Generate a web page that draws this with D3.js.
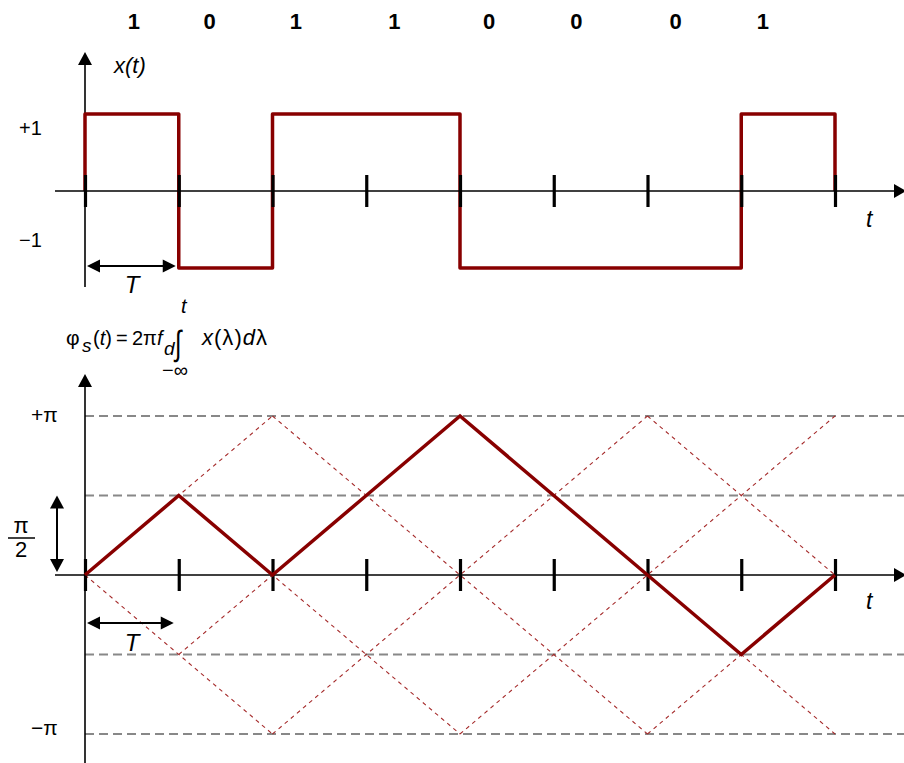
<!DOCTYPE html>
<html><head><meta charset="utf-8">
<script src="https://cdn.jsdelivr.net/npm/d3@7"></script>
<style>
body{margin:0;background:#fff}
svg{display:block}
text{font-family:"Liberation Sans",Arial,sans-serif;fill:#000}
</style>
</head><body>
<svg id="c" width="904" height="763"></svg>
<script>
// ---------------- data ----------------
const bits = ["1","0","1","1","0","0","0","1"];
const levels = [1,-1,1,1,-1,-1,-1,1];            // x(t) in each bit interval
const phase = [0,1,0,1,2,1,0,-1,0];              // φs at t = nT, units of π/2
const tickTimes = [0,1,2,3,4,5,6,7,8];
const gridPhases = [2,1,-1,-2];                  // dashed reference levels (π/2 units)
const trellisLines = [                            // [t0, φ0, t1, φ1] in (T, π/2) units
  [0,0,2,-2],[2,2,6,-2],[1,1,4,-2],[4,2,8,-2],[6,2,8,0],
  [0,0,2,2],[1,-1,4,2],[2,-2,6,2],[4,-2,8,2],[6,-2,8,0]
];
const topLevelLabels = ["+1","\u22121"];
const phaseLabels = ["+\u03c0","\u2212\u03c0"];

// ---------------- layout ----------------
const svg = d3.select("#c");
const x = d3.scaleLinear().domain([0,8]).range([85,835]);
const yTop = d3.scaleLinear().domain([-1,1]).range([268,114]);
const yBot = d3.scaleLinear().domain([-2,2]).range([734,416]);
const RED = "#880000";
const bitNudge = [0.02,-0.17,-0.25,-0.2,-0.19,-0.26,-0.2,-0.27];

function arrowHead(g, tx, ty, dir, w, h){
  let p;
  if(dir==="up") p=[[tx,ty],[tx-w/2,ty+h],[tx+w/2,ty+h]];
  if(dir==="down") p=[[tx,ty],[tx-w/2,ty-h],[tx+w/2,ty-h]];
  if(dir==="left") p=[[tx,ty],[tx+h,ty-w/2],[tx+h,ty+w/2]];
  if(dir==="right") p=[[tx,ty],[tx-h,ty-w/2],[tx-h,ty+w/2]];
  g.append("path").attr("d","M"+p.map(d=>d.join(",")).join("L")+"Z").attr("fill","#000");
}
function hArrow(g, x0, x1, y){
  g.append("line").attr("x1",x0+10).attr("x2",x1-10).attr("y1",y).attr("y2",y).attr("stroke","#000").attr("stroke-width",2);
  arrowHead(g,x0,y,"left",13,13);
  arrowHead(g,x1,y,"right",13,13);
}
function timeAxis(g, y0){
  g.append("line").attr("x1",55).attr("x2",895).attr("y1",y0).attr("y2",y0).attr("stroke","#000").attr("stroke-width",1.6);
  arrowHead(g,906,y0,"right",14,12);
  const ax = d3.axisBottom(x).tickValues(tickTimes).tickFormat("").tickSize(16);
  const a = g.append("g").attr("transform",`translate(0,${y0})`).call(ax);
  a.select(".domain").remove();
  a.selectAll(".tick line").attr("y1",-16).attr("y2",16).attr("stroke","#000").attr("stroke-width",3.2);
  return a;
}

// ---------------- top chart ----------------
const gTop = svg.append("g");
gTop.append("line").attr("x1",x(0)).attr("x2",x(0)).attr("y1",62).attr("y2",287).attr("stroke","#000").attr("stroke-width",1.6);
arrowHead(gTop,x(0),52,"up",14,13);

const pts = [[0,0]];
levels.forEach((l,i)=>{pts.push([i,l]);pts.push([i+1,l]);});
pts.push([8,0]);
gTop.append("path")
  .attr("d",d3.line().x(d=>x(d[0])).y(d=>yTop(d[1]))(pts))
  .attr("fill","none").attr("stroke",RED).attr("stroke-width",3.5).attr("stroke-linejoin","round");

timeAxis(gTop, yTop(0));

gTop.selectAll("text.bit").data(bits).join("text").attr("class","bit")
  .attr("x",(d,i)=>x(i+0.5+bitNudge[i])).attr("y",29)
  .attr("text-anchor","middle").attr("font-size",22).attr("font-weight","bold").text(d=>d);

gTop.append("text").attr("x",114).attr("y",73).attr("font-size",22).attr("font-style","italic").text("x(t)");
gTop.append("text").attr("x",19).attr("y",135).attr("font-size",20).text(topLevelLabels[0]);
gTop.append("text").attr("x",19).attr("y",247).attr("font-size",20).text(topLevelLabels[1]);
gTop.append("text").attr("x",866).attr("y",227).attr("font-size",23).attr("font-style","italic").text("t");

hArrow(gTop, x(0)+2, x(1)-3, 266);
gTop.append("text").attr("x",132).attr("y",293).attr("text-anchor","middle").attr("font-size",24).attr("font-style","italic").text("T");

// ---------------- formula ----------------
const f = svg.append("g").attr("font-size",20);
f.append("text").attr("x",66).attr("y",345).attr("font-size",21).text("\u03c6");
f.append("text").attr("x",82).attr("y",352).attr("font-size",19).attr("font-style","italic").text("s");
f.append("text").attr("x",93).attr("y",345).html('(<tspan font-style="italic">t</tspan>)');
f.append("text").attr("x",116).attr("y",345).text("=");
f.append("text").attr("x",132).attr("y",345).text("2\u03c0");
f.append("text").attr("x",157).attr("y",345).attr("font-style","italic").text("f");
f.append("text").attr("x",164).attr("y",355).attr("font-size",19).attr("font-style","italic").text("d");
f.append("text").attr("transform","translate(175,355) scale(1,1.45)").attr("font-size",24).attr("font-family","DejaVu Sans").text("\u222b");
f.append("text").attr("x",181).attr("y",313).attr("font-style","italic").text("t");
f.append("text").attr("x",162).attr("y",377).text("\u2212\u221e");
f.append("text").attr("x",202).attr("y",345).attr("font-size",22).attr("textLength",65).attr("lengthAdjust","spacing")
  .html('<tspan font-style="italic">x</tspan>(\u03bb)<tspan font-style="italic">d</tspan>\u03bb');

// ---------------- bottom chart ----------------
const gBot = svg.append("g");
gBot.selectAll("line.grid").data(gridPhases).join("line").attr("class","grid")
  .attr("x1",x(0)).attr("x2",904).attr("y1",d=>yBot(d)).attr("y2",d=>yBot(d))
  .attr("stroke","#888").attr("stroke-width",2).attr("stroke-dasharray","9,5");
gBot.selectAll("line.tr").data(trellisLines).join("line").attr("class","tr")
  .attr("x1",d=>x(d[0])).attr("y1",d=>yBot(d[1])).attr("x2",d=>x(d[2])).attr("y2",d=>yBot(d[3]))
  .attr("stroke","#a52a2a").attr("stroke-width",1.1).attr("stroke-dasharray","4,4");
gBot.append("line").attr("x1",x(0)).attr("x2",x(0)).attr("y1",384).attr("y2",763).attr("stroke","#000").attr("stroke-width",1.6);
arrowHead(gBot,x(0),374,"up",14,13);

timeAxis(gBot, yBot(0));

gBot.append("path")
  .attr("d",d3.line().x((d,i)=>x(tickTimes[i])).y(d=>yBot(d))(phase))
  .attr("fill","none").attr("stroke",RED).attr("stroke-width",3.5).attr("stroke-linejoin","miter");

gBot.append("text").attr("x",31).attr("y",422).attr("font-size",21).text(phaseLabels[0]);
gBot.append("text").attr("x",31).attr("y",735).attr("font-size",21).text(phaseLabels[1]);
gBot.append("text").attr("x",866).attr("y",609).attr("font-size",23).attr("font-style","italic").text("t");

gBot.append("line").attr("x1",57).attr("x2",57).attr("y1",yBot(1)+10).attr("y2",yBot(0)-10).attr("stroke","#000").attr("stroke-width",2);
arrowHead(gBot,57,yBot(1),"up",14,13);
arrowHead(gBot,57,yBot(0)-3,"down",14,13);
gBot.append("text").attr("x",21).attr("y",533).attr("text-anchor","middle").attr("font-size",22).text("\u03c0");
gBot.append("line").attr("x1",8).attr("x2",35).attr("y1",538).attr("y2",538).attr("stroke","#000").attr("stroke-width",1.5);
gBot.append("text").attr("x",21).attr("y",557).attr("text-anchor","middle").attr("font-size",22).text("2");

hArrow(gBot, x(0)+2, x(1)-5, 623);
gBot.append("text").attr("x",132).attr("y",651).attr("text-anchor","middle").attr("font-size",24).attr("font-style","italic").text("T");
</script>
</body></html>
